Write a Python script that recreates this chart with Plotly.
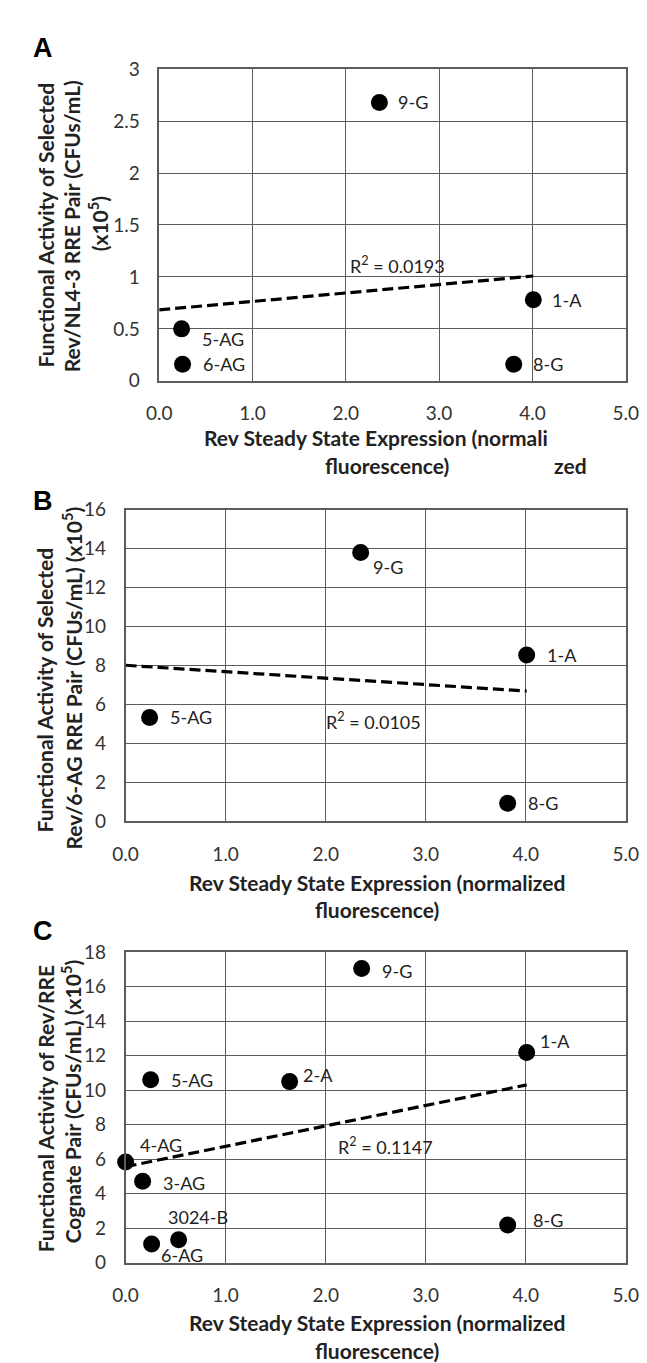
import numpy as np
import plotly.graph_objects as go

# ---------------- data ----------------
a_labels = ["9-G", "1-A", "5-AG", "6-AG", "8-G"]
a_x = [2.36, 4.01, 0.24, 0.25, 3.80]
a_y = [2.68, 0.78, 0.50, 0.16, 0.16]

b_labels = ["9-G", "1-A", "5-AG", "8-G"]
b_x = [2.35, 4.01, 0.24, 3.82]
b_y = [13.8, 8.54, 5.33, 0.92]

c_labels = ["9-G", "1-A", "5-AG", "2-A", "4-AG", "3-AG", "3024-B", "6-AG", "8-G"]
c_x = [2.36, 4.01, 0.25, 1.64, 0.00, 0.17, 0.53, 0.26, 3.82]
c_y = [17.05, 12.18, 10.60, 10.49, 5.83, 4.72, 1.33, 1.08, 2.18]

x_ticks = [0, 1, 2, 3, 4, 5]
r2_text = ["R<sup>2</sup> = 0.0193", "R<sup>2</sup> = 0.0105", "R<sup>2</sup> = 0.1147"]

# ---------------- layout geometry (pixels) ----------------
W, H = 647, 1363
FONT = "Lato, Open Sans, sans-serif"

def px_x(p):
    return p / W

def px_y(p):
    return 1 - p / H

panels = [
    dict(x=a_x, y=a_y, labels=a_labels, left=144, right=630, top=50, bottom=367,
         yrange=[0, 3], dtick=0.5, r2=r2_text[0], r2pos=(2.55, 1.11),
         offsets={"9-G": (17, 0), "1-A": (17, 0), "5-AG": (18, -10), "6-AG": (18, 0), "8-G": (17, 0)}),
    dict(x=b_x, y=b_y, labels=b_labels, left=109, right=630, top=498, bottom=815,
         yrange=[0, 16], dtick=2, r2=r2_text[1], r2pos=(2.48, 5.15),
         offsets={"9-G": (10, -15), "1-A": (18, 0), "5-AG": (18, 0), "8-G": (18, 0)}),
    dict(x=c_x, y=c_y, labels=c_labels, left=109, right=630, top=948, bottom=1264,
         yrange=[0, 18], dtick=2, r2=r2_text[2], r2pos=(2.6, 6.78),
         offsets={"9-G": (18, -3), "1-A": (11, 11), "5-AG": (18, 0), "2-A": (11, 7),
                  "4-AG": (12, 17), "3-AG": (18, -2), "3024-B": (-13, 23),
                  "6-AG": (7, -11), "8-G": (23, 5)}),
]

fig = go.Figure()
annotations = []

grid_col = "#5c5c5c"
tick_font = dict(family=FONT, size=19, color="#333333")
lab_font = dict(family=FONT, size=18, color="#222222")
title_font = dict(family=FONT, size=21, color="#222222")

for i, p in enumerate(panels):
    n = "" if i == 0 else str(i + 1)
    xa, ya = "x" + n, "y" + n
    # points
    fig.add_trace(go.Scatter(
        x=p["x"], y=p["y"], mode="markers", xaxis=xa, yaxis=ya, cliponaxis=False,
        marker=dict(color="black", size=17), showlegend=False, hoverinfo="skip"))
    # linear trendline
    slope, icpt = np.polyfit(p["x"], p["y"], 1)
    tx = [0, max(p["x"])]
    ty = [icpt + slope * v for v in tx]
    fig.add_trace(go.Scatter(
        x=tx, y=ty, mode="lines", xaxis=xa, yaxis=ya,
        line=dict(color="black", width=3.2, dash="11px,5px"),
        showlegend=False, hoverinfo="skip"))
    # point labels
    for lx, ly, lt in zip(p["x"], p["y"], p["labels"]):
        dx, dy = p["offsets"][lt]
        annotations.append(dict(x=lx, y=ly, xref=xa, yref=ya, text=lt, showarrow=False,
                                xanchor="left", yanchor="middle", xshift=dx, yshift=dy,
                                font=lab_font))
    # R^2
    annotations.append(dict(x=p["r2pos"][0], y=p["r2pos"][1], xref=xa, yref=ya,
                            text=p["r2"], showarrow=False, font=lab_font))
    axis_common = dict(showline=True, linecolor=grid_col, linewidth=1.5, mirror=True,
                       showgrid=True, gridcolor=grid_col, gridwidth=1.3, zeroline=False,
                       ticks="outside", tickcolor="rgba(0,0,0,0)", tickfont=tick_font,
                       fixedrange=True)
    fig.update_layout(**{
        ("xaxis" + n): dict(domain=[px_x(p["left"]), px_x(p["right"])], range=[0, 5],
                            tickvals=x_ticks, tickformat=".1f", anchor=ya, ticklen=15,
                            **axis_common),
        ("yaxis" + n): dict(domain=[px_y(p["bottom"]), px_y(p["top"])], range=p["yrange"],
                            dtick=p["dtick"], anchor=xa, ticklen=14, **axis_common),
    })

# panel letters
for letter, yy in [("A", 28), ("B", 489), ("C", 927)]:
    annotations.append(dict(x=px_x(23), y=px_y(yy), xref="paper", yref="paper", text="<b>" + letter + "</b>",
                            showarrow=False, xanchor="center", yanchor="middle",
                            font=dict(family="Liberation Sans, Arial", size=27, color="black")))

def paper_text(txt, x, y, angle=0):
    annotations.append(dict(x=px_x(x), y=px_y(y), xref="paper", yref="paper",
                            text="<b>" + txt + "</b>", showarrow=False, textangle=angle,
                            xanchor="center", yanchor="middle", font=title_font,
                            borderpad=0))

# x-axis titles
paper_text("Rev Steady State Expression (normali", 370, 425)
paper_text("fluorescence)", 381, 453)
paper_text("zed", 573, 453)
paper_text("Rev Steady State Expression (normalized", 371, 877)
paper_text("fluorescence)", 371, 905)
paper_text("Rev Steady State Expression (normalized", 371, 1325)
paper_text("fluorescence)", 371, 1353)

# y-axis titles
paper_text("Functional Activity of Selected", 25, 208, -90)
paper_text("Rev/NL4-3 RRE Pair (CFUs/mL)", 53, 210, -90)
paper_text("(x10<sup>5</sup>)", 80, 207, -90)
paper_text("Functional Activity of Selected", 25, 681, -90)
paper_text("Rev/6-AG RRE Pair (CFUs/mL) (x10<sup>5</sup>)", 53, 669, -90)
paper_text("Functional Activity of Rev/RRE", 25, 1107, -90)
paper_text("Cognate Pair (CFUs/mL) (x10<sup>5</sup>)", 53, 1100, -90)

fig.update_layout(width=W, height=H, margin=dict(l=0, r=0, t=0, b=0),
                  paper_bgcolor="white", plot_bgcolor="white",
                  annotations=annotations, font=dict(family=FONT))

fig.write_html("out.html", config={"displayModeBar": False})
